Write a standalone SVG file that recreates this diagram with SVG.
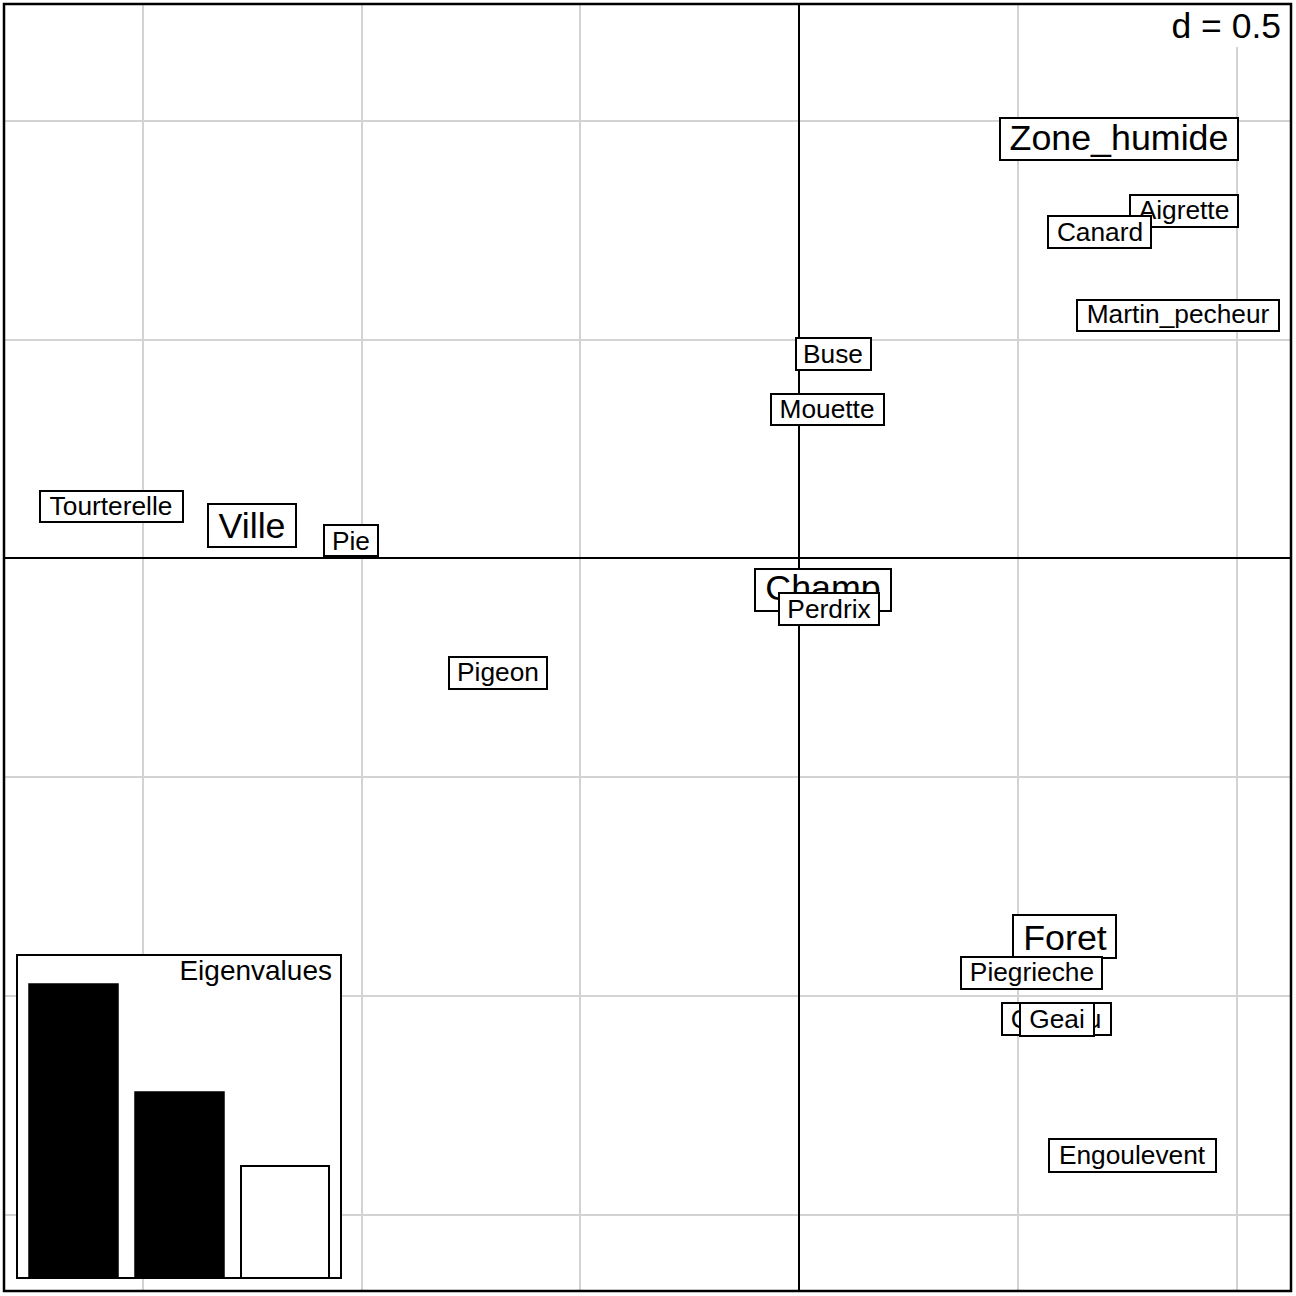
<svg xmlns="http://www.w3.org/2000/svg" width="1296" height="1296" viewBox="0 0 1296 1296">
<style>
.grid line{stroke:#d3d3d3;stroke-width:2}
.axis line{stroke:#000;stroke-width:2}
.lab rect{fill:#fff;stroke:#000;stroke-width:2}
.lab text{font-family:"Liberation Sans",Arial,sans-serif;font-size:26.3px;text-anchor:middle;fill:#000}
.lab text.big{font-size:35.8px}
.t{font-family:"Liberation Sans",Arial,sans-serif;fill:#000}
</style>
<rect x="0" y="0" width="1296" height="1296" fill="#fff"/>
<g class="grid">
<line x1="143" y1="4" x2="143" y2="1291"/>
<line x1="362" y1="4" x2="362" y2="1291"/>
<line x1="580" y1="4" x2="580" y2="1291"/>
<line x1="1018" y1="4" x2="1018" y2="1291"/>
<line x1="1237" y1="4" x2="1237" y2="1291"/>
<line x1="4" y1="121" x2="1291" y2="121"/>
<line x1="4" y1="340" x2="1291" y2="340"/>
<line x1="4" y1="777" x2="1291" y2="777"/>
<line x1="4" y1="996" x2="1291" y2="996"/>
<line x1="4" y1="1215" x2="1291" y2="1215"/>
</g>
<g id="scale">
<rect x="1162" y="5" width="128" height="42" fill="#fff"/>
<text class="t" x="1281" y="38" font-size="35.5" text-anchor="end">d = 0.5</text>
</g>
<g class="axis">
<line x1="799" y1="4" x2="799" y2="1291"/>
<line x1="4" y1="558" x2="1291" y2="558"/>
</g>
<g class="lab">
<g id="Zone_humide"><rect x="1000" y="118" width="238" height="42"/><text class="big" x="1119" y="150">Zone_humide</text></g>
<g id="Aigrette"><rect x="1130" y="195" width="108" height="32"/><text x="1184" y="219">Aigrette</text></g>
<g id="Canard"><rect x="1048" y="216" width="103" height="32"/><text x="1100" y="241">Canard</text></g>
<g id="Martin_pecheur"><rect x="1077" y="300" width="202" height="31"/><text x="1178" y="323">Martin_pecheur</text></g>
<g id="Buse"><rect x="796" y="338" width="75" height="32"/><text x="833" y="363">Buse</text></g>
<g id="Mouette"><rect x="771" y="394" width="113" height="31"/><text x="827" y="418">Mouette</text></g>
<g id="Tourterelle"><rect x="40" y="491" width="143" height="31"/><text x="111" y="515">Tourterelle</text></g>
<g id="Ville"><rect x="208" y="504" width="88" height="43"/><text class="big" x="252" y="538">Ville</text></g>
<g id="Pie"><rect x="324" y="525" width="54" height="31"/><text x="351" y="550">Pie</text></g>
<g id="Champ"><rect x="755" y="569" width="136" height="42"/><text class="big" x="823" y="600">Champ</text></g>
<g id="Perdrix"><rect x="779" y="593" width="100" height="32"/><text x="829" y="618">Perdrix</text></g>
<g id="Pigeon"><rect x="449" y="657" width="98" height="32"/><text x="498" y="681">Pigeon</text></g>
<g id="Foret"><rect x="1013" y="915" width="103" height="43"/><text class="big" x="1065" y="950">Foret</text></g>
<g id="Piegrieche"><rect x="961" y="957" width="141" height="32"/><text x="1032" y="981">Piegrieche</text></g>
<g id="Coucou"><rect x="1002" y="1003" width="109" height="32"/><text x="1056" y="1028">Coucou</text></g>
<g id="Geai"><rect x="1020" y="1003" width="74" height="33"/><text x="1057" y="1028">Geai</text></g>
<g id="Engoulevent"><rect x="1049" y="1139" width="167" height="33"/><text x="1132" y="1164">Engoulevent</text></g>
</g>
<g id="eigenvalues">
<rect x="17" y="955" width="324" height="323" fill="#fff" stroke="#000" stroke-width="2"/>
<text class="t" x="332" y="980" font-size="28" text-anchor="end">Eigenvalues</text>
<rect x="29" y="984" width="89" height="294" fill="#000" stroke="#000" stroke-width="1.5"/>
<rect x="135" y="1092" width="89" height="186" fill="#000" stroke="#000" stroke-width="1.5"/>
<rect x="241" y="1166" width="88" height="112" fill="#fff" stroke="#000" stroke-width="2"/>
</g>
<rect x="4" y="4" width="1287" height="1287" fill="none" stroke="#000" stroke-width="2.5"/>
</svg>
